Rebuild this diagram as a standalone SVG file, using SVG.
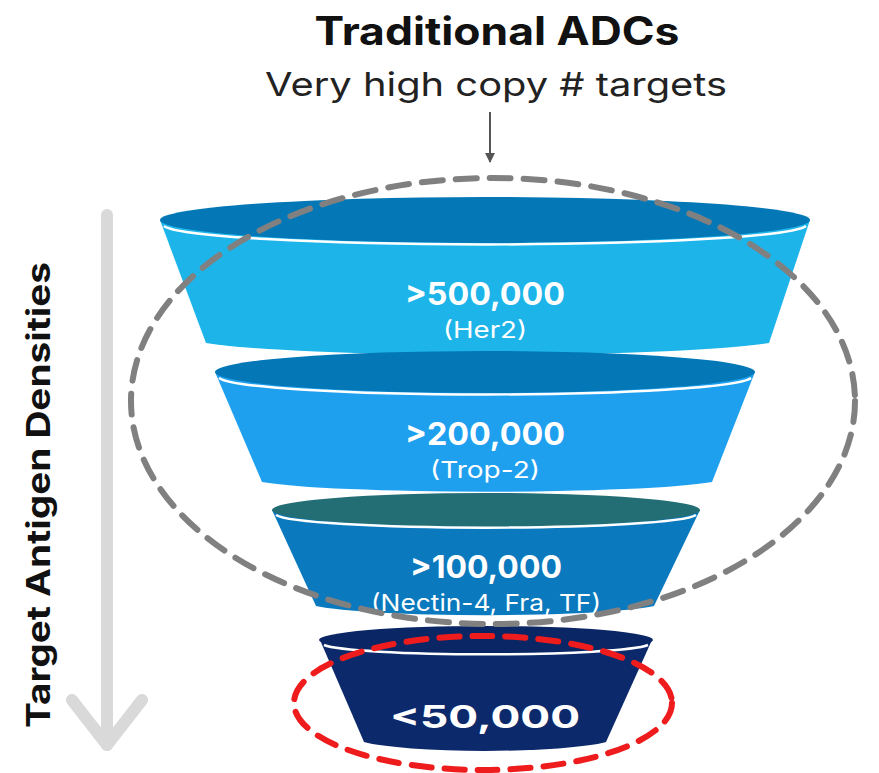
<svg xmlns="http://www.w3.org/2000/svg" width="879" height="773" viewBox="0 0 879 773">
<defs>
<style>
.t{font-family:Inter,"Open Sans","Liberation Sans",sans-serif;text-anchor:middle;}
.num{font-weight:700;fill:#fff;font-size:31px;}
.sub{fill:#fff;font-size:23px;}
.rim{fill:none;stroke:#fff;stroke-width:2.5;}
</style>
<marker id="ah" viewBox="0 0 10 10" refX="9" refY="5" markerWidth="5" markerHeight="5" orient="auto"><path d="M0,0 L10,5 L0,10 Z" fill="#555"/></marker>
</defs>
<rect width="879" height="773" fill="#fff"/>
<text class="t" x="497" y="45" font-size="39" font-weight="700" fill="#111" textLength="365" lengthAdjust="spacingAndGlyphs">Traditional ADCs</text>
<text class="t" x="496" y="96" font-size="33" fill="#222" textLength="462" lengthAdjust="spacingAndGlyphs">Very high copy # targets</text>

<g id="tier1">
<path d="M160,220 L206,343 A300,18 0 0 0 769,343 L810,220 Z" fill="#1DB5E9"/>
<ellipse cx="485" cy="220" rx="325" ry="23" fill="#0477B6"/>
<path class="rim" d="M164,226 A322,20 0 0 0 806,226"/>
<text class="t num" x="485" y="305" textLength="160" lengthAdjust="spacingAndGlyphs">&gt;500,000</text>
<text class="t sub" x="485" y="338" textLength="84" lengthAdjust="spacingAndGlyphs">(Her2)</text>
</g>
<g id="tier2">
<path d="M215,372 L262,482 A240,15 0 0 0 712,482 L755,372 Z" fill="#1FA0EF"/>
<ellipse cx="485" cy="372" rx="270" ry="21" fill="#0478B6"/>
<path class="rim" d="M219,378 A267,18 0 0 0 751,378"/>
<text class="t num" x="485" y="445" textLength="160" lengthAdjust="spacingAndGlyphs">&gt;200,000</text>
<text class="t sub" x="485" y="478" textLength="110" lengthAdjust="spacingAndGlyphs">(Trop-2)</text>
</g>
<g id="tier3">
<path d="M272,510 L316,606 A180,14 0 0 0 654,606 L700,510 Z" fill="#0B79BD"/>
<ellipse cx="486" cy="510" rx="214" ry="17" fill="#236E74"/>
<path class="rim" d="M276,515 A211,14 0 0 0 696,515"/>
<text class="t num" x="486" y="578" textLength="152" lengthAdjust="spacingAndGlyphs">&gt;100,000</text>
<text class="t sub" x="486" y="611" textLength="230" lengthAdjust="spacingAndGlyphs">(Nectin-4, Fra, TF)</text>
</g>
<g id="tier4">
<path d="M320,640 L364,742 A130,14 0 0 0 606,742 L652,640 Z" fill="#0C2A6B"/>
<ellipse cx="486" cy="640" rx="167" ry="14" fill="#0A2664"/>
<path class="rim" d="M324,645 A164,11 0 0 0 648,645"/>
<text class="t num" x="485" y="728" font-size="46" textLength="190" lengthAdjust="spacingAndGlyphs">&lt;50,000</text>
</g>

<g id="connectors">
<line x1="490" y1="112" x2="490" y2="162" stroke="#555" stroke-width="2" marker-end="url(#ah)"/>
<ellipse cx="493" cy="401" rx="362" ry="223" fill="none" stroke="#808080" stroke-width="6" stroke-dasharray="21 13" stroke-linecap="round"/>
<ellipse cx="483" cy="703" rx="189" ry="67" fill="none" stroke="#EE1C1C" stroke-width="6" stroke-dasharray="20 13" stroke-linecap="round"/>
<g stroke="#D9D9D9" stroke-width="12" stroke-linecap="round" fill="none">
<line x1="107" y1="215" x2="107" y2="745"/>
<polyline points="72,700 107,745 142,700" stroke-linejoin="round"/>
</g>
</g>
<text class="t" transform="translate(50,495) rotate(-90)" font-size="32" font-weight="700" fill="#111" textLength="466" lengthAdjust="spacingAndGlyphs">Target Antigen Densities</text>
</svg>
